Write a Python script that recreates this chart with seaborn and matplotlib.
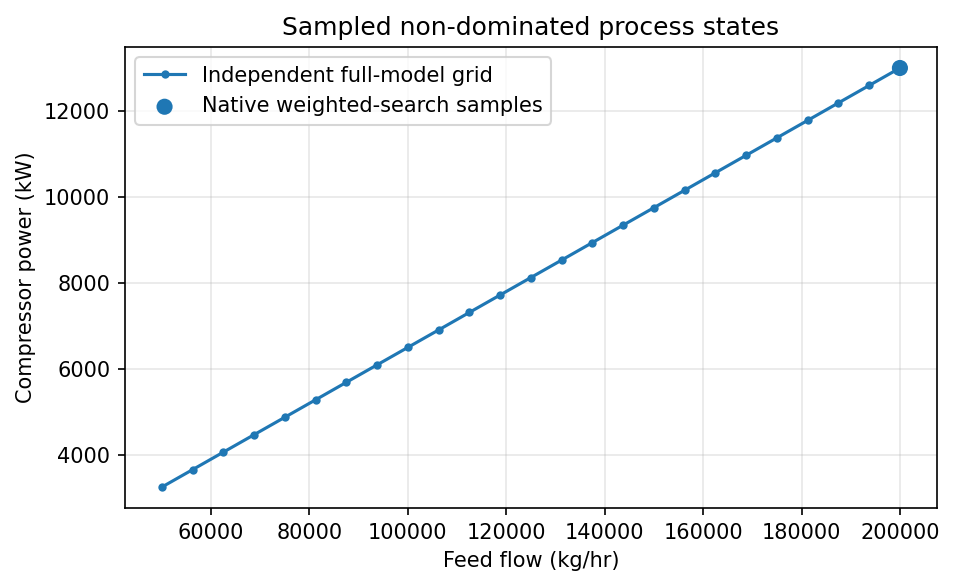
import pandas as pd
import matplotlib
matplotlib.use("Agg")
import matplotlib.pyplot as plt
import seaborn as sns

# grid of full-model evaluations
feed_flow = [50000, 56250, 62500, 68750, 75000, 81250, 87500, 93750, 100000,
             106250, 112500, 118750, 125000, 131250, 137500, 143750, 150000,
             156250, 162500, 168750, 175000, 181250, 187500, 193750, 200000]
power_kw = [3250, 3656, 4063, 4469, 4875, 5281, 5688, 6094, 6500,
            6906, 7313, 7719, 8125, 8531, 8938, 9344, 9750,
            10156, 10563, 10969, 11375, 11781, 12188, 12594, 13000]

# weighted-search samples
sample_flow = [200000]
sample_power = [13000]

grid = pd.DataFrame({"flow": feed_flow, "power": power_kw})
samples = pd.DataFrame({"flow": sample_flow, "power": sample_power})

fig, ax = plt.subplots(figsize=(6.36, 3.92), dpi=150)
sns.lineplot(data=grid, x="flow", y="power", marker="o", markersize=4,
             markeredgewidth=0, color="#1f77b4", ax=ax,
             label="Independent full-model grid")
sns.scatterplot(data=samples, x="flow", y="power", s=60, color="#1f77b4",
                edgecolor="none", ax=ax, label="Native weighted-search samples",
                zorder=3)

ax.set_title("Sampled non-dominated process states")
ax.set_xlabel("Feed flow (kg/hr)")
ax.set_ylabel("Compressor power (kW)")
ax.grid(True, alpha=0.3)
ax.legend(loc="upper left")
fig.subplots_adjust(left=0.131, right=0.982, top=0.920, bottom=0.136)
fig.savefig("out.png", dpi=150)
